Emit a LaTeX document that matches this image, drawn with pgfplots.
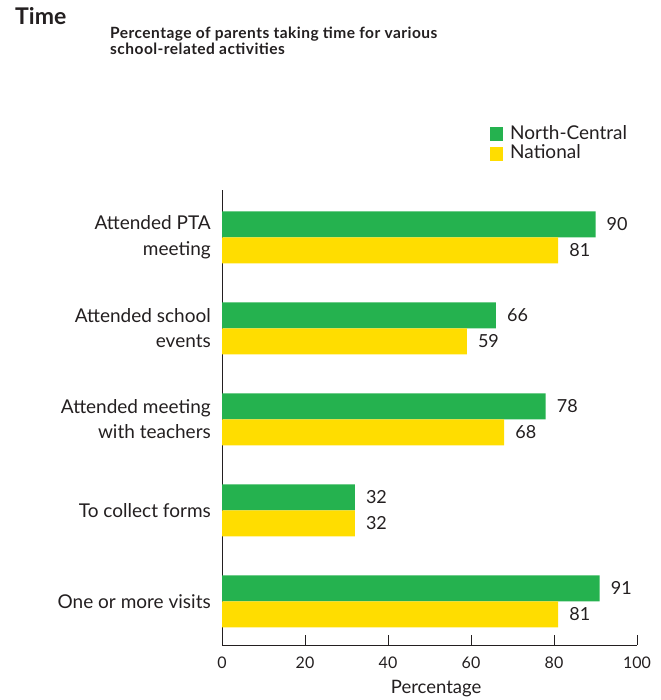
\documentclass[border=0pt]{standalone}
\usepackage{pgfplots}
\pgfplotsset{compat=1.18}
\usepackage{fontspec}
\setmainfont{Lato}

\definecolor{ncgreen}{HTML}{25B24F}
\definecolor{natyellow}{HTML}{FFDD00}
\definecolor{ink}{HTML}{231F20}

% one row per activity; pos is the row on the y axis (0 = bottom)
\usepackage{pgfplotstable}
\pgfplotstableread{
pos    north  national
0      91     81
1      32     32
2      78     68
3      66     59
4      90     81
}\visits

\begin{document}
\begin{tikzpicture}
  % page frame
  \path (0pt,0pt) rectangle (660pt,700pt);

  % headings
  \node[anchor=base west, inner sep=0pt, text=ink,
        font=\fontsize{23}{26}\selectfont\bfseries] at (15pt,675pt) {Time};
  \node[anchor=base west, inner sep=0pt, text=ink,
        font=\fontsize{15.5}{17}\selectfont\bfseries\addfontfeatures{LetterSpace=3}]
        at (110pt,661pt) {Percentage of parents taking time for various};
  \node[anchor=base west, inner sep=0pt, text=ink,
        font=\fontsize{15.5}{17}\selectfont\bfseries\addfontfeatures{LetterSpace=3}]
        at (110pt,645.5pt) {school-related activities};

  \begin{axis}[
    at={(222pt,55pt)}, anchor=south west,
    scale only axis, width=415pt, height=455pt,
    xmin=0, xmax=100, ymin=-0.48, ymax=4.52,
    axis lines*=left,
    axis line style={ink, line width=0.9pt},
    tick style={ink, line width=0.9pt},
    tick align=inside, major tick length=10pt,
    xtick={0,20,...,100},
    ytick={0,1,2,3,4},
    ytick style={draw=none},
    yticklabels={One or more visits, To collect forms,
                 {Attended meeting\\with teachers},
                 {Attended school\\events},
                 {Attended PTA\\meeting}},
    yticklabel style={align=right, inner sep=0pt, xshift=-1pt, text=ink,
                      font=\fontsize{19}{25.5}\selectfont},
    xticklabel style={inner sep=0pt, yshift=-12pt, text=ink,
                      font=\fontsize{16}{18}\selectfont},
    /pgf/number format/assume math mode=true,
    xlabel={Percentage},
    x label style={at={(axis description cs:0.516,0)}, anchor=north,
                   inner sep=0pt, yshift=-35pt, text=ink,
                   font=\fontsize{18.5}{20}\selectfont},
    xbar, bar width=26pt, bar shift=0pt,
    nodes near coords, point meta=x,
    every node near coord/.append style={anchor=west, inner sep=0pt,
                   xshift=11pt, text=ink, font=\fontsize{18}{20}\selectfont},
    legend style={at={(0.6458,1.1407)}, anchor=north west, draw=none,
                  fill=none, inner sep=0pt, row sep=4.5pt,
                  nodes={inner sep=0pt, text=ink, text height=13pt, text depth=0pt},
                  font=\fontsize{19}{21}\selectfont,
                  /tikz/every odd column/.append style={column sep=7pt}},
    legend cell align=left,
  ]
    % North-Central bars sit just above each row centre, National just below
    \addplot[fill=ncgreen, draw=none,
             legend image code/.code={\fill[ncgreen] (0pt,-8.5pt) rectangle (13pt,5.5pt);}]
      table[x=north, y expr=\thisrow{pos}+0.142857] {\visits};
    \addplot[fill=natyellow, draw=none,
             legend image code/.code={\fill[natyellow] (0pt,-8.5pt) rectangle (13pt,5.5pt);}]
      table[x=national, y expr=\thisrow{pos}-0.142857] {\visits};
    \legend{North-Central, National}
  \end{axis}
\end{tikzpicture}
\end{document}
